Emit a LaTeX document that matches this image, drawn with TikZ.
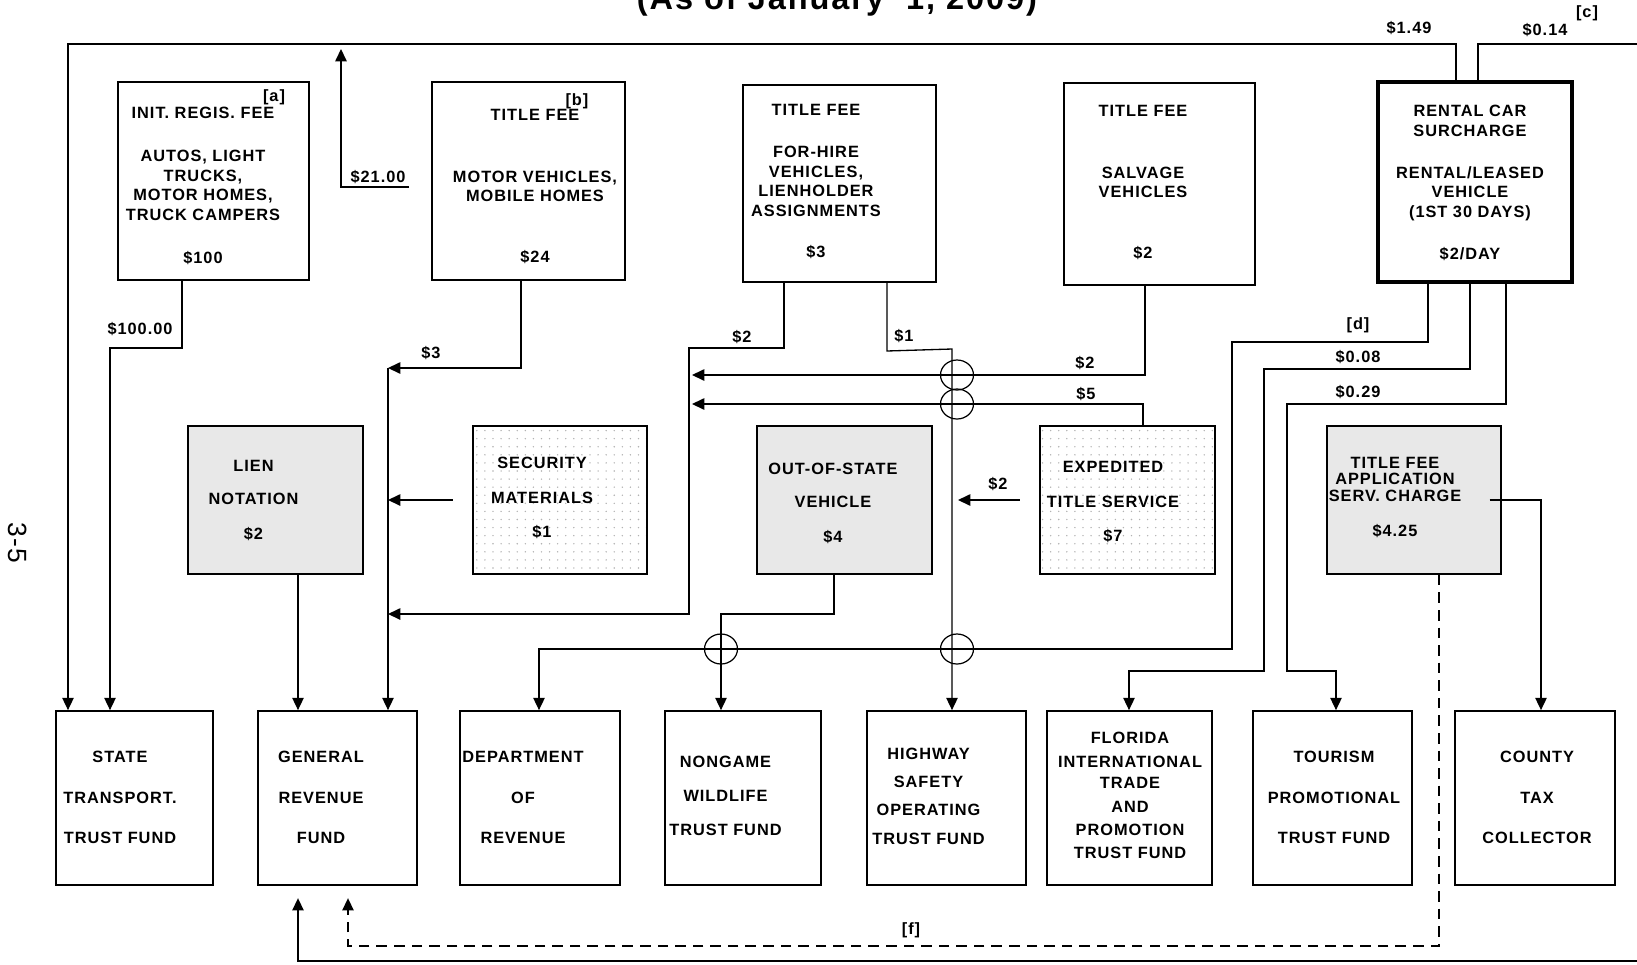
\documentclass[tikz,border=0pt]{standalone}
\usepackage{fontspec}
\setmainfont{Liberation Sans}[LetterSpace=6]
\usetikzlibrary{arrows.meta,fit,patterns.meta}

\begin{document}
\begin{tikzpicture}[x=0.02cm,y=-0.02cm,line width=0.75pt,
    >={Triangle[length=7pt,width=6.5pt]},
    fbox/.style={draw,line width=1pt,inner sep=0pt},
    gbox/.style={fbox,fill=gray!18},
    dbox/.style={fbox,pattern={Dots[distance=4.6pt,radius=0.45pt]},pattern color=gray!60},
    txt/.style={font=\bfseries\fontsize{9.3}{11.1}\selectfont,align=center,inner sep=0pt},
    lbl/.style={font=\bfseries\fontsize{9.3}{11.1}\selectfont,inner sep=0pt},
    hop/.style={line width=0.7pt},
    dashline/.style={dash pattern=on 6pt off 4pt}]
    \useasboundingbox (0,0) rectangle (1637,964);

    \node[anchor=base,font=\bfseries\fontsize{18.5}{21}\selectfont] (title) at (837,9.5) {(As of January\ \ 1, 2009)};
    \node[rotate=-90,font=\fontsize{15}{15}\selectfont] (pgno) at (18,543) {3-5};

    \node[fbox,fit={(118,82) (309,280)}] (ireg) {};
    \node[fbox,fit={(432,82) (625,280)}] (tfmv) {};
    \node[fbox,fit={(743,85) (936,282)}] (tfhire) {};
    \node[fbox,fit={(1064,83) (1255,285)}] (tfsalv) {};
    \node[fbox,line width=2pt,fit={(1378,82) (1572,282)}] (rental) {};

    \node[gbox,fit={(188,426) (363,574)}] (lien) {};
    \node[dbox,fit={(473,426) (647,574)}] (secmat) {};
    \node[gbox,fit={(757,426) (932,574)}] (outst) {};
    \node[dbox,fit={(1040,426) (1215,574)}] (expd) {};
    \node[gbox,fit={(1327,426) (1501,574)}] (tfapp) {};

    \node[fbox,fit={(56,711) (213,885)}] (stf) {};
    \node[fbox,fit={(258,711) (417,885)}] (grf) {};
    \node[fbox,fit={(460,711) (620,885)}] (dor) {};
    \node[fbox,fit={(665,711) (821,885)}] (ngw) {};
    \node[fbox,fit={(867,711) (1026,885)}] (hsf) {};
    \node[fbox,fit={(1047,711) (1212,885)}] (fitpf) {};
    \node[fbox,fit={(1253,711) (1412,885)}] (tpf) {};
    \node[fbox,fit={(1455,711) (1615,885)}] (ctc) {};

    \node[txt] (ireg-t) at (203,186) {INIT. REGIS. FEE\\[13.4pt]AUTOS, LIGHT\\TRUCKS,\\MOTOR HOMES,\\TRUCK CAMPERS\\[13.4pt]\$100};
    \node[lbl] (ireg-n) at (274,97) {[a]};
    \node[txt] (tfmv-t) at (535,186.5) {TITLE FEE\\[24pt]MOTOR VEHICLES,\\MOBILE HOMES\\[23.6pt]\$24};
    \node[lbl] (tfmv-n) at (577,101) {[b]};
    \node[txt] (tfhire-t) at (816,181.5) {TITLE FEE\\[12.8pt]FOR-HIRE\\VEHICLES,\\LIENHOLDER\\ASSIGNMENTS\\[12.2pt]\$3};
    \node[txt] (tfsalv-t) at (1143,182.5) {TITLE FEE\\[24pt]SALVAGE\\VEHICLES\\[23.6pt]\$2};
    \node[txt] (rental-t) at (1470,183) {RENTAL CAR\\SURCHARGE\\[12.8pt]RENTAL/LEASED\\VEHICLE\\(1ST 30 DAYS)\\[12.8pt]\$2/DAY};

    \node[txt] (lien-t) at (253.5,500) {LIEN\\[7.7pt]NOTATION\\[8.8pt]\$2};
    \node[txt] (secmat-t) at (542,497.5) {SECURITY\\[8.8pt]MATERIALS\\[8.2pt]\$1};
    \node[txt] (outst-t) at (833,503) {OUT-OF-STATE\\[7.7pt]VEHICLE\\[8.8pt]\$4};
    \node[txt] (expd-t) at (1113,502) {EXPEDITED\\[8.8pt]TITLE SERVICE\\[8.8pt]\$7};
    \node[txt] (tfapp-t) at (1395,497.5) {TITLE FEE\\[-2pt]APPLICATION\\[-0.9pt]SERV. CHARGE\\[8.8pt]\$4.25};

    \node[txt] (stf-t) at (120,797.5) {STATE\\[12.2pt]TRANSPORT.\\[11.7pt]TRUST FUND};
    \node[txt] (grf-t) at (321,797.5) {GENERAL\\[12.2pt]REVENUE\\[11.7pt]FUND};
    \node[txt] (dor-t) at (523,797.5) {DEPARTMENT\\[12.2pt]OF\\[11.7pt]REVENUE};
    \node[txt] (ngw-t) at (725.5,796) {NONGAME\\[8.3pt]WILDLIFE\\[8.3pt]TRUST FUND};
    \node[txt] (hsf-t) at (928.5,796.5) {HIGHWAY\\[4.8pt]SAFETY\\[4.8pt]OPERATING\\[5.4pt]TRUST FUND};
    \node[txt] (fitpf-t) at (1130,795.5) {FLORIDA\\[2.6pt]INTERNATIONAL\\[0.9pt]TRADE\\[2.6pt]AND\\[2pt]PROMOTION\\[2pt]TRUST FUND};
    \node[txt] (tpf-t) at (1334,797.5) {TOURISM\\[12.2pt]PROMOTIONAL\\[11.7pt]TRUST FUND};
    \node[txt] (ctc-t) at (1537,797.5) {COUNTY\\[12.2pt]TAX\\[11.7pt]COLLECTOR};

    \coordinate (edgeT) at (1637,44);
    \coordinate (edgeB) at (1637,961);
    \coordinate (from21) at (409,187);
    \coordinate (to21) at (341,49);

    \draw[->] (1456,0 |- rental.north) -- (1456,44) -- (68,44) -- (68,0 |- stf.north);
    \draw (1478,0 |- rental.north) -- (1478,44) -- (edgeT);
    \draw[->,shorten >=7pt] (edgeB) -- (298,961) -- (298,0 |- grf.south);
    \draw[->] (from21) -- (341,187) -- (to21);

    \draw[->] (182,0 |- ireg.south) -- (182,348) -- (110,348) -- (110,0 |- stf.north);
    \draw[->] (521,0 |- tfmv.south) -- (521,368) -- (388,368);
    \draw[->] (388,368) -- (388,0 |- grf.north);
    \draw[->,shorten <=11pt] (secmat.west) -- (388,0 |- secmat.west);
    \draw[->] (298,0 |- lien.south) -- (298,0 |- grf.north);
    \draw[->] (784,0 |- tfhire.south) -- (784,348) -- (689,348) -- (689,614) -- (388,614);
    \draw[->] (1145,0 |- tfsalv.south) -- (1145,375) -- (692,375);
    \draw[->] (1143,0 |- expd.north) -- (1143,404) -- (692,404);
    \draw[->] (887,0 |- tfhire.south) -- (887,351) -- (952,349) -- (952,0 |- hsf.north);
    \draw[->,shorten <=11pt] (expd.west) -- (958,0 |- expd.west);
    \draw[->] (834,0 |- outst.south) -- (834,614) -- (721,614) -- (721,0 |- ngw.north);
    \draw[->] (1428,0 |- rental.south) -- (1428,342) -- (1232,342) -- (1232,649) -- (539,649) -- (539,0 |- dor.north);
    \draw[->] (1470,0 |- rental.south) -- (1470,369) -- (1264,369) -- (1264,671) -- (1129,671) -- (1129,0 |- fitpf.north);
    \draw[->] (1506,0 |- rental.south) -- (1506,404) -- (1287,404) -- (1287,671) -- (1336,671) -- (1336,0 |- tpf.north);
    \draw[->] ([xshift=-7pt]tfapp.east) -- (1541,0 |- tfapp.east) -- (1541,0 |- ctc.north);
    \draw[dashline,->,shorten >=7pt] (1439,0 |- tfapp.south) -- (1439,946) -- (348,946) -- (348,0 |- grf.south);

    \foreach \p in {(957,375),(957,404),(957,649),(721,649)}
        \draw[hop] \p ellipse [x radius=16.5,y radius=15];

    \node[lbl] (l100) at (140,329) {\$100.00};
    \node[lbl] (l21) at (378,177) {\$21.00};
    \node[lbl] (l3) at (431,353) {\$3};
    \node[lbl] (l2a) at (742,337) {\$2};
    \node[lbl] (l1) at (904,336) {\$1};
    \node[lbl] (l2b) at (1085,363) {\$2};
    \node[lbl] (l5) at (1086,394) {\$5};
    \node[lbl] (l2c) at (998,484) {\$2};
    \node[lbl] (ld) at (1358,325) {[d]};
    \node[lbl] (l008) at (1358,357) {\$0.08};
    \node[lbl] (l029) at (1358,392) {\$0.29};
    \node[lbl] (l149) at (1409,28) {\$1.49};
    \node[lbl] (l014) at (1545,30) {\$0.14};
    \node[lbl] (lc) at (1587,13) {[c]};
    \node[lbl] (lf) at (911,930) {[f]};
\end{tikzpicture}
\end{document}
